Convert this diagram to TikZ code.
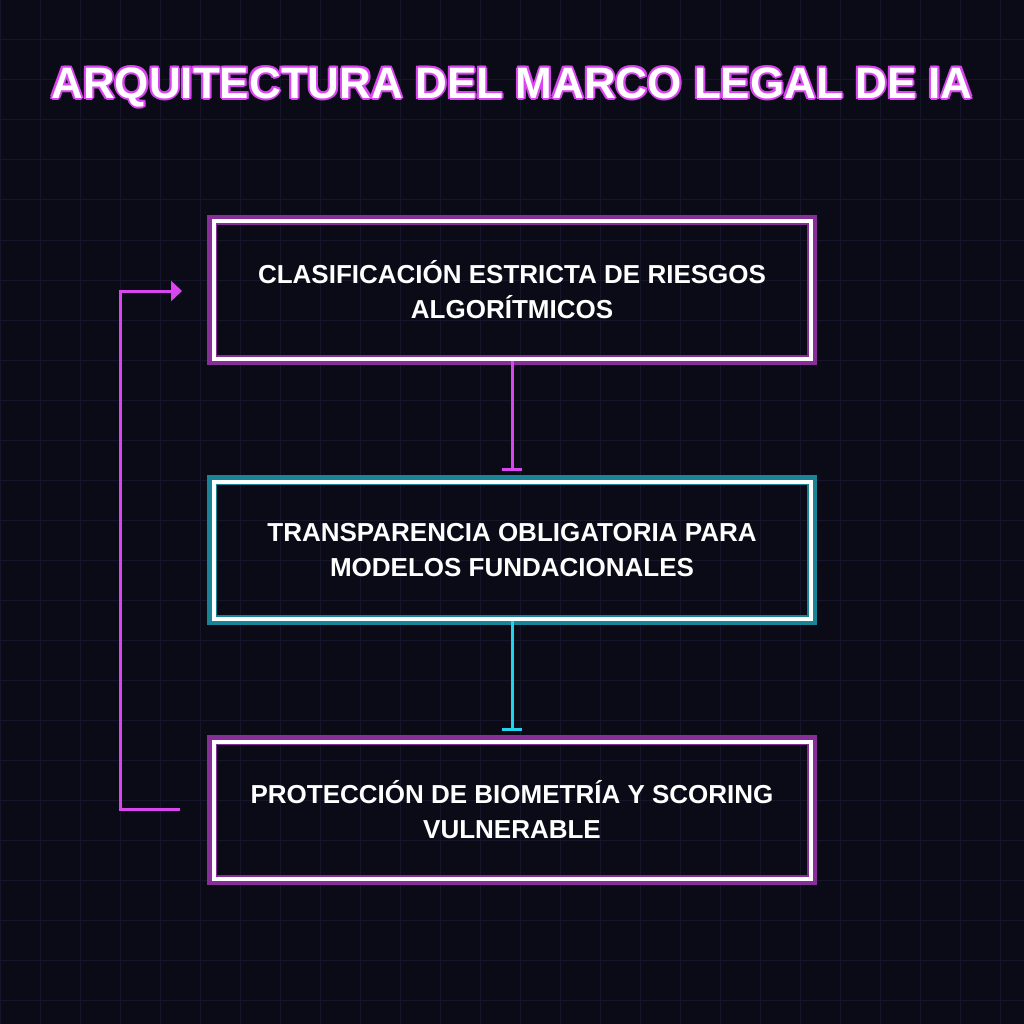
\documentclass[tikz,border=0pt]{standalone}
\usepackage{fontspec}
\setmainfont{Liberation Sans}
\usetikzlibrary{arrows.meta}
\definecolor{bg}{HTML}{0B0B18}
\definecolor{gridc}{HTML}{16162A}
\definecolor{mag}{HTML}{D946EF}
\definecolor{cyn}{HTML}{22D3EE}
\tikzset{
 x=1pt,y=-1pt,
 boxst/.style={draw=white,line width=4pt,minimum width=597pt,minimum height=137pt,align=center,text=white,font=\bfseries\fontsize{26}{35}\selectfont},
 glowm/.style={draw=mag!60!bg,line width=10pt},
 glowc/.style={draw=cyn!60!bg,line width=10pt},
 conn/.style={line width=3pt},
}
\newcommand{\ttl}{ARQUITECTURA DEL MARCO LEGAL DE IA}
\begin{document}
\begin{tikzpicture}
\fill[bg] (0,0) rectangle (1024,1024);
\useasboundingbox (0,0) rectangle (1024,1024);
\foreach \i in {0,40,...,1000}{
 \draw[gridc,line width=1pt] (\i,0)--(\i,1024);
 \draw[gridc,line width=1pt] (0,\i)--(1024,\i);}
\foreach \dx/\dy in {2/0,-2/0,0/2,0/-2,1.5/1.5,-1.5/1.5,1.5/-1.5,-1.5/-1.5}{
 \node[text=mag,font=\bfseries\fontsize{44}{48}\selectfont] at (512+\dx,87+\dy) {\ttl};}
\node (title)[text=white,font=\bfseries\fontsize{44}{48}\selectfont] at (512,87) {\ttl};
% glows
\draw[glowm] (212,220) rectangle (812,360);
\draw[glowc] (212,480) rectangle (812,620);
\draw[glowm] (212,740) rectangle (812,880);
\node (a)[boxst] at (512,290) {CLASIFICACIÓN ESTRICTA DE RIESGOS\\ALGORÍTMICOS};
\node (b)[boxst] at (512,550) {TRANSPARENCIA OBLIGATORIA PARA\\MODELOS FUNDACIONALES};
\node (c)[boxst] at (512,810) {PROTECCIÓN DE BIOMETRÍA Y SCORING\\VULNERABLE};
\draw[conn,mag,-{Bar[width=20pt,line width=3pt]}] (a.south) -- ++(0,110) coordinate (ae);
\draw[conn,cyn,-{Bar[width=20pt,line width=3pt]}] (b.south) -- ++(0,110) coordinate (be);
\coordinate (ls) at (180,809);
\coordinate (le) at (182,291);
\draw[conn,mag,-{Triangle[width=20pt,length=11pt]}] (ls) -- (120,809) -- (120,291) -- (le);
\end{tikzpicture}
\end{document}
